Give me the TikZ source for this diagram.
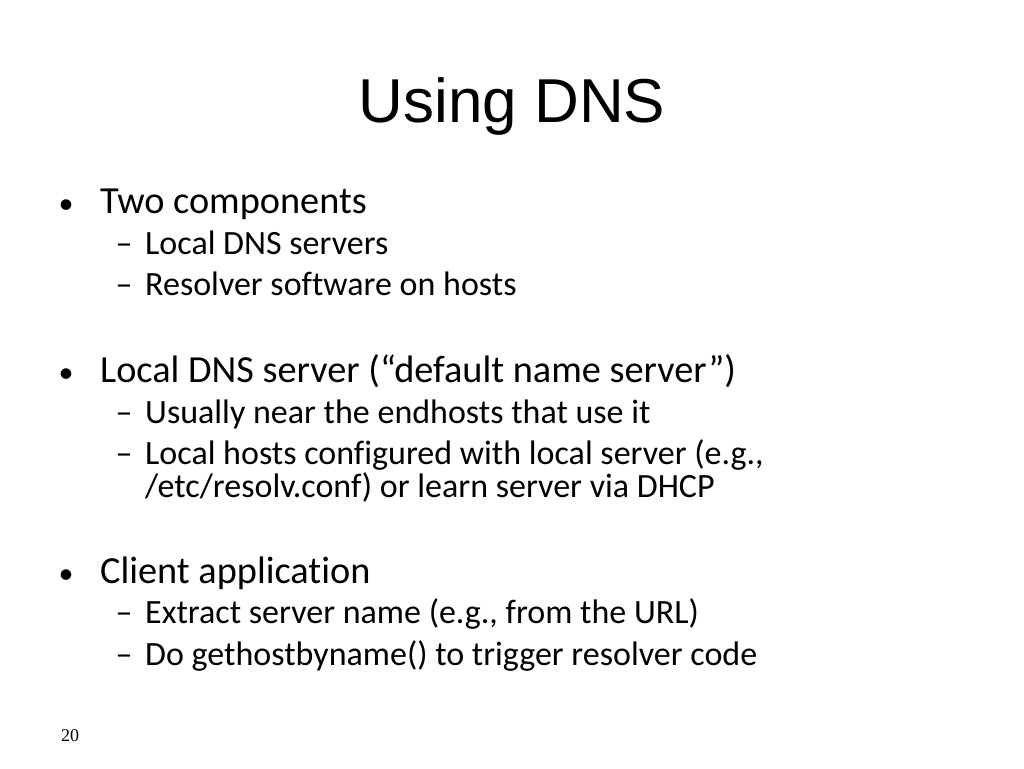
\documentclass[tikz,border=0pt]{standalone}
\usepackage{fontspec}
\setmainfont[Ligatures=NoCommon]{Carlito}
\newfontfamily\titlefont{Liberation Sans}
\newfontfamily\numfont{Liberation Serif}
\begin{document}
\begin{tikzpicture}[x=1pt,y=-1pt,
  title/.style={anchor=base, inner sep=0pt, font=\titlefont\fontsize{62}{70}\selectfont},
  first/.style={anchor=base west, inner sep=0pt, font=\fontsize{38.3}{42}\selectfont},
  second/.style={anchor=base west, inner sep=0pt, font=\fontsize{34}{38}\selectfont}]
  % Page frame
  \useasboundingbox[fill=white] (0,0) rectangle (1024,768);
  % Title
  \node[title] (head) at (512,122) {Using DNS};
  % Bullets, level one
  \foreach \name/\y/\txt in {two/213/Two components,
      local/382/Local DNS server (“default name server”),
      client/583/Client application} {
    \node[first] (\name) at (100,\y) {\txt};
    \node[first, anchor=base, font=\fontsize{30}{34}\selectfont] (\name dot) at (66,\y) {•};
  }
  % Dashes, level two
  \foreach \name/\y/\txt in {ldns/254/Local DNS servers,
      resolver/295/Resolver software on hosts,
      near/423/Usually near the endhosts that use it,
      hosts/464/{Local hosts configured with local server (e.g.,},
      extract/623/{Extract server name (e.g., from the URL)},
      gethost/665/Do gethostbyname() to trigger resolver code} {
    \node[second] (\name) at (145,\y) {\txt};
    \node[second, anchor=base] (\name dash) at (124,\y) {–};
  }
  \node[second] (etc) at (145,497) {/etc/resolv.conf) or learn server via DHCP};
  % Page number
  \node[anchor=base west, inner sep=0pt, font=\numfont\fontsize{18}{20}\selectfont] (page) at (61,741) {20};
\end{tikzpicture}
\end{document}
